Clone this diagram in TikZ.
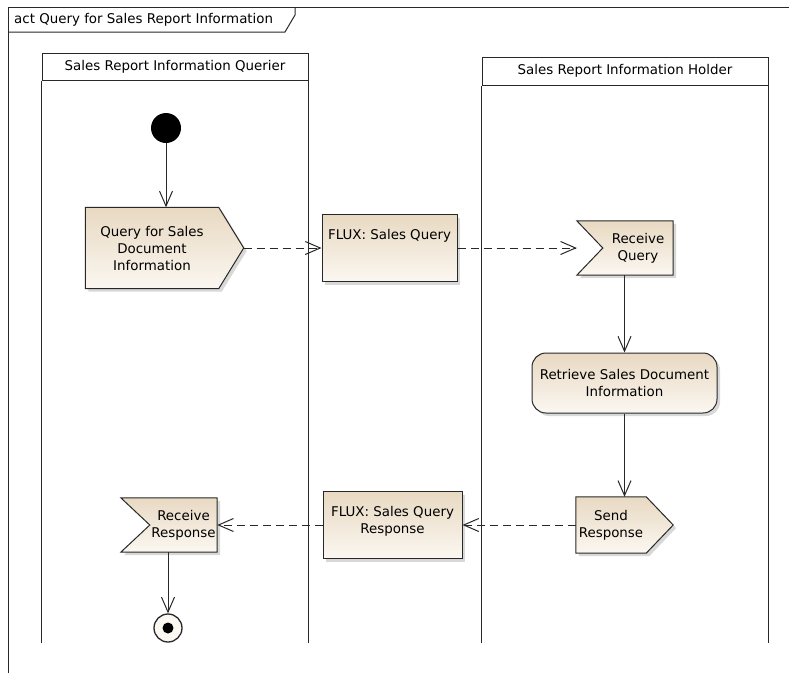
\documentclass[tikz,border=0pt]{standalone}
\usepackage{fontspec}
\setmainfont{DejaVu Sans}
\usetikzlibrary{arrows.meta, positioning, shadows, backgrounds}

\definecolor{actdark}{RGB}{232,217,194}
\definecolor{actlight}{RGB}{251,247,241}
\definecolor{edgegray}{RGB}{40,40,40}

\begin{document}
\begin{tikzpicture}[x=1pt, y=-1pt,
        every node/.style={font=\fontsize{13.4pt}{17pt}\selectfont, inner sep=0pt},
        edgeline/.style={draw=edgegray, line width=1pt},
        fillshade/.style={top color=actdark, bottom color=actlight, drop shadow={shadow xshift=3pt, shadow yshift=-3pt, fill=black!30}},
        actbox/.style={edgeline, fillshade},
        bodytext/.style={align=center},
        lanehead/.style={edgeline, rectangle},
        objbox/.style={edgeline, fillshade, rectangle, minimum height=67pt},
        actround/.style={edgeline, fillshade, rectangle, rounded corners=14pt, minimum width=185pt, minimum height=60pt, align=center},
        flow/.style={edgeline, -{Straight Barb[length=15pt, width=13pt]}},
        dataflow/.style={flow, dash pattern=on 8pt off 5pt},
        initnode/.style={circle, fill=black, minimum size=30pt},
        finalnode/.style={circle, edgeline, line width=1.3pt, fill=actlight, minimum size=28pt,
            path picture={\fill[black] (path picture bounding box.center) circle (5.5pt);}}]
    \useasboundingbox (0, 0) rectangle (789, 673);

    % frame
    \node[anchor=west] at (14, 20) (title) {act Query for Sales Report Information};
    \draw[edgeline] (8, 673) -- (8, 7) -- (789, 7);
    \draw[edgeline] (8, 32) -- (285, 32) -- (295, 15) -- (295, 7);

    % lanes
    \coordinate (laneend) at (0, 643);
    \node[lanehead, minimum width=266pt, minimum height=27pt] at (175, 66.5) (querier) {Sales Report Information Querier};
    \node[lanehead, minimum width=286pt, minimum height=28pt] at (625, 71) (holder) {Sales Report Information Holder};
    \foreach \l in {querier, holder} {
        \draw[edgeline] (\l.south west) -- (\l.south west |- laneend);
        \draw[edgeline] (\l.south east) -- (\l.south east |- laneend);
    }

    % activity nodes
    \node[initnode] at (166, 128) (start) {};
    \node[bodytext, minimum width=133pt, minimum height=81pt] at (152, 248) (query) {Query for Sales\\Document\\Information};
    \coordinate (querytip) at ([xshift=25pt]query.east);

    \node[objbox, minimum width=135pt] at (389.5, 248) (fluxq) {};
    \node[below=15pt of fluxq.north, align=center] (fluxqlbl) {FLUX: Sales Query};

    \node[bodytext, minimum width=70pt, minimum height=54pt] at (638, 248) (recvq) {Receive\\Query};
    \coordinate (recvqin) at ([xshift=-26pt]recvq.west);

    \node[actround] at (624.5, 383) (retr) {Retrieve Sales Document\\Information};

    \node[bodytext, minimum width=70pt, minimum height=56pt] at (611, 525) (sendr) {Send\\Response};
    \coordinate (sendrtip) at ([xshift=27pt]sendr.east);

    \node[objbox, minimum width=139pt] at (392.5, 525) (fluxr) {};
    \node[below=15pt of fluxr.north, align=center] (fluxrlbl) {FLUX: Sales Query\\Response};

    \node[bodytext, minimum width=67pt, minimum height=54pt] at (183.5, 525) (recvr) {Receive\\Response};

    \node[finalnode] at (168, 628) (end) {};

    % action outlines
    \begin{scope}[on background layer]
        \path[actbox] (query.north west) -- (query.north east) -- (querytip) -- (query.south east) -- (query.south west) -- cycle;
        \path[actbox] ([xshift=-26pt]recvq.north west) -- (recvq.north east) -- (recvq.south east) -- ([xshift=-26pt]recvq.south west) -- (recvq.west) -- cycle;
        \path[actbox] (sendr.north west) -- (sendr.north east) -- (sendrtip) -- (sendr.south east) -- (sendr.south west) -- cycle;
        \path[actbox] ([xshift=-29pt]recvr.north west) -- (recvr.north east) -- (recvr.south east) -- ([xshift=-29pt]recvr.south west) -- (recvr.west) -- cycle;
    \end{scope}

    % flows
    \draw[flow] (start) -- (start |- query.north);
    \draw[dataflow] (querytip) -- (fluxq.west);
    \draw[dataflow] (fluxq.east) -- (recvqin);
    \draw[flow] (retr.north |- recvq.south) -- (retr.north);
    \draw[flow] (retr.south) -- (retr.south |- sendr.north);
    \draw[dataflow] (sendr.west) -- (fluxr.east);
    \draw[dataflow] (fluxr.west) -- (recvr.east);
    \draw[flow] (end |- recvr.south) -- (end);
\end{tikzpicture}
\end{document}
